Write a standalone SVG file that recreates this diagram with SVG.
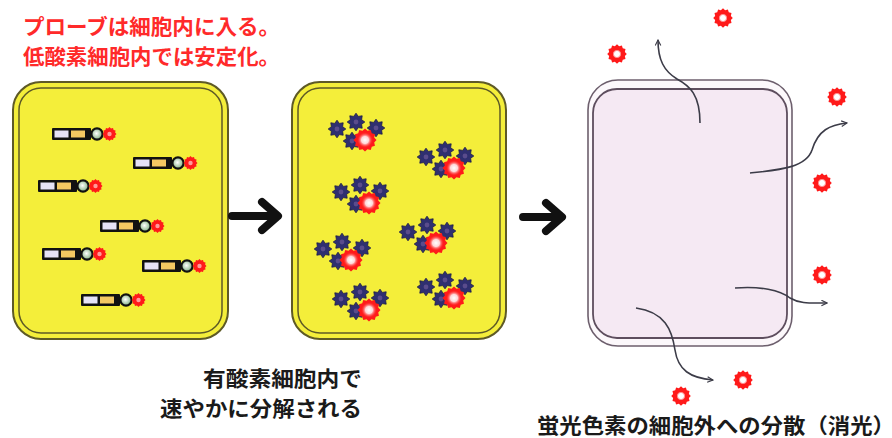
<svg xmlns="http://www.w3.org/2000/svg" xmlns:xlink="http://www.w3.org/1999/xlink" width="892" height="438" viewBox="0 0 892 438">
  <style>
    .jp { font-family: "Noto Sans CJK JP", "Noto Sans CJK SC", sans-serif; font-weight: 700; font-size: 21px; }
    .red-txt { fill: #ff2a2a; }
    .blk-txt { fill: #1a1a1a; }
    .cell-out { fill: #f4ee3a; stroke: #5e5a26; stroke-width: 2; }
    .cell-in { fill: #f4ee3a; stroke: #5e5a26; stroke-width: 1.5; }
    .shell-out { fill: #fcf8fb; stroke: #6d5f6d; stroke-width: 1.6; }
    .shell-in { fill: #f5e9f3; stroke: #5e4e5e; stroke-width: 1.8; }
    .step { fill: none; stroke: #111; stroke-width: 8; stroke-linecap: round; stroke-linejoin: round; }
    .flow { fill: none; stroke: #3c3c48; stroke-width: 1.6; marker-end: url(#open-head); }
  </style>
  <defs>
    <marker id="open-head" viewBox="0 0 10 10" refX="9" refY="5" markerWidth="7" markerHeight="7" orient="auto" markerUnits="userSpaceOnUse">
      <path d="M1 1 L9 5 L1 9" fill="none" stroke="#3c3c48" stroke-width="1.6"/>
    </marker>
    <radialGradient id="glow" cx="0.5" cy="0.5" r="0.5">
      <stop offset="0" stop-color="#ffffff"/>
      <stop offset="0.45" stop-color="#ffd8d8"/>
      <stop offset="1" stop-color="#ff2020" stop-opacity="0"/>
    </radialGradient>
    <radialGradient id="bead" cx="0.45" cy="0.45" r="0.55">
      <stop offset="0" stop-color="#ffffff"/>
      <stop offset="1" stop-color="#7fae7f"/>
    </radialGradient>
    <!-- fluorophore: 12-tooth red gear -->
    <polygon id="gear" fill="#ff1a1a" points="10,0 8.02,2.15 8.66,5 5.87,5.87 5,8.66 2.15,8.02 0,10 -2.15,8.02 -5,8.66 -5.87,5.87 -8.66,5 -8.02,2.15 -10,0 -8.02,-2.15 -8.66,-5 -5.87,-5.87 -5,-8.66 -2.15,-8.02 0,-10 2.15,-8.02 5,-8.66 5.87,-5.87 8.66,-5 8.02,-2.15"/>
    <!-- degraded fragment: 8-point navy star -->
    <g id="frag">
      <polygon fill="#2f2f70" stroke="#1b1b46" stroke-width="0.8" points="0,-8.8 2.3,-5.6 6.2,-6.2 5.6,-2.3 8.8,0 5.6,2.3 6.2,6.2 2.3,5.6 0,8.8 -2.3,5.6 -6.2,6.2 -5.6,2.3 -8.8,0 -5.6,-2.3 -6.2,-6.2 -2.3,-5.6"/>
      <circle r="2.4" fill="#5a4c8c"/>
    </g>
    <!-- intact probe molecule -->
    <g id="probe">
      <rect x="0" y="-6" width="39" height="12" fill="#111" rx="1"/>
      <rect x="2.5" y="-3.5" width="14" height="7" fill="#e6e2f6"/>
      <rect x="19" y="-3.5" width="14" height="7" fill="#f4c862"/>
      <circle cx="45" cy="0" r="5.6" fill="url(#bead)" stroke="#111" stroke-width="2.2"/>
      <use xlink:href="#gear" transform="translate(57.5 0) scale(0.7)"/>
      <circle cx="57.5" cy="0" r="2.2" fill="#ff9a9a"/>
    </g>
    <!-- fragment cluster with released fluorophore -->
    <g id="cluster">
      <use xlink:href="#frag" transform="translate(-28 -11)"/>
      <use xlink:href="#frag" transform="translate(-9 -18)"/>
      <use xlink:href="#frag" transform="translate(11 -12)"/>
      <use xlink:href="#frag" transform="translate(-13 1)"/>
      <use xlink:href="#gear" transform="scale(1.15)"/>
      <circle r="8" fill="url(#glow)"/>
    </g>
    <!-- free fluorophore outside the cell -->
    <g id="dye">
      <use xlink:href="#gear" transform="scale(0.98)"/>
      <circle r="3.6" fill="#fff" stroke="#ff9090" stroke-width="1"/>
    </g>
  </defs>

  <rect width="892" height="438" fill="#ffffff"/>

  <!-- heading -->
  <g id="note-top">
    <text class="jp red-txt" x="23" y="34" textLength="257" lengthAdjust="spacingAndGlyphs">プローブは細胞内に入る。</text>
    <text class="jp red-txt" x="23" y="64" textLength="257" lengthAdjust="spacingAndGlyphs">低酸素細胞内では安定化。</text>
  </g>

  <!-- cell 1: intact probes -->
  <g id="cell-hypoxic">
    <rect class="cell-out" x="13" y="82" width="215" height="257" rx="28"/>
    <rect class="cell-in" x="19" y="88" width="203" height="245" rx="22"/>
    <use xlink:href="#probe" x="52" y="134"/>
    <use xlink:href="#probe" x="133" y="163"/>
    <use xlink:href="#probe" x="38" y="186"/>
    <use xlink:href="#probe" x="100" y="226"/>
    <use xlink:href="#probe" x="42" y="254"/>
    <use xlink:href="#probe" x="142" y="266"/>
    <use xlink:href="#probe" x="81" y="300"/>
  </g>

  <!-- cell 2: degraded probes -->
  <g id="cell-aerobic">
    <rect class="cell-out" x="292" y="82" width="214" height="257" rx="28"/>
    <rect class="cell-in" x="298" y="88" width="202" height="245" rx="22"/>
    <use xlink:href="#cluster" x="365" y="140"/>
    <use xlink:href="#cluster" x="454" y="168"/>
    <use xlink:href="#cluster" x="369" y="203"/>
    <use xlink:href="#cluster" x="436" y="243"/>
    <use xlink:href="#cluster" x="351" y="260"/>
    <use xlink:href="#cluster" x="454" y="298"/>
    <use xlink:href="#cluster" x="369" y="310"/>
  </g>

  <!-- cell 3: emptied cell -->
  <g id="cell-quenched">
    <rect class="shell-out" x="588" y="80" width="204" height="266" rx="30"/>
    <rect class="shell-in" x="593" y="89" width="194" height="249" rx="24"/>
  </g>

  <!-- free dyes -->
  <g id="dyes">
    <use xlink:href="#dye" x="723" y="18"/>
    <use xlink:href="#dye" x="617" y="54"/>
    <use xlink:href="#dye" x="837" y="97"/>
    <use xlink:href="#dye" x="822" y="183"/>
    <use xlink:href="#dye" x="822" y="275"/>
    <use xlink:href="#dye" x="743" y="380"/>
    <use xlink:href="#dye" x="681" y="396"/>
  </g>

  <g id="label-mid">
    <text class="jp blk-txt" x="203" y="386" textLength="159" lengthAdjust="spacingAndGlyphs">有酸素細胞内で</text>
    <text class="jp blk-txt" x="160" y="416" textLength="202" lengthAdjust="spacingAndGlyphs">速やかに分解される</text>
  </g>

  <g id="label-right">
    <text class="jp blk-txt" x="537" y="433" textLength="358" lengthAdjust="spacingAndGlyphs">蛍光色素の細胞外への分散（消光）</text>
  </g>

  <!-- connectors -->
  <g id="connectors">
    <path class="step" d="M232 216 L277 216 M262 202 L278 216 L262 230"/>
    <path class="step" d="M523 217 L561 217 M546 203 L562 217 L546 231"/>
    <path class="flow" d="M700 123 C700 95 690 86 677 79 C664 71 658 60 658 40"/>
    <path class="flow" d="M750 173 C778 170 806 168 812 150 C818 130 830 125 847 123"/>
    <path class="flow" d="M735 288 C760 286 780 290 790 298 C800 304 810 303 827 303"/>
    <path class="flow" d="M636 308 C665 312 672 330 675 350 C678 370 690 378 713 380"/>
  </g>
</svg>
